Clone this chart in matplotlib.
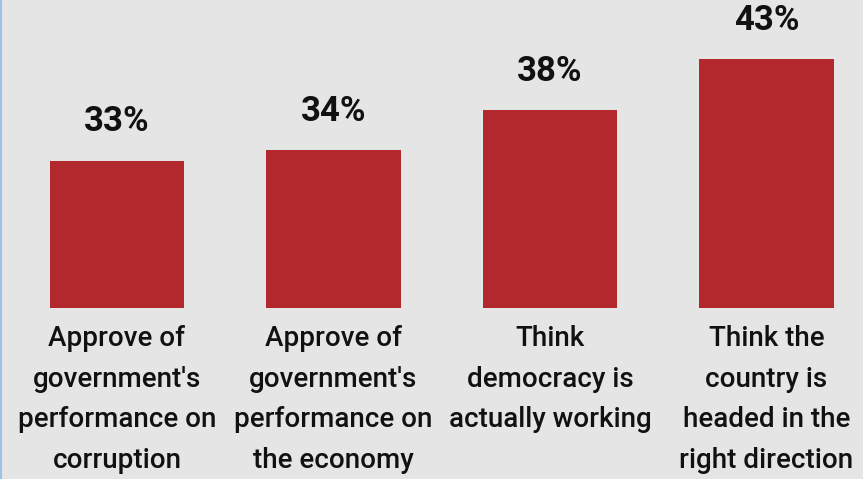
import matplotlib
matplotlib.use('Agg')
import matplotlib.pyplot as plt

categories = ["Approve of\ngovernment's\nperformance on\ncorruption",
              "Approve of\ngovernment's\nperformance on\nthe economy",
              "Think\ndemocracy is\nactually working",
              "Think the\ncountry is\nheaded in the\nright direction"]
values = [33, 34, 38, 43]
value_labels = ['33%', '34%', '38%', '43%']

bg = '#e5e5e5'
bar_color = '#b3282d'
fonts = ['Roboto', 'DejaVu Sans']
base = 18.5

fig = plt.figure(figsize=(8.63, 4.79), dpi=100, facecolor=bg)
ax = fig.add_axes([0, 0, 1, 1], facecolor=bg)

x = list(range(len(values)))
ax.bar(x, [v - base for v in values], bottom=base, width=0.62, color=bar_color)

# percentages above the bars
for xi, v, lab in zip(x, values, value_labels):
    ax.annotate(lab, (xi, v), xytext=(0, 21), textcoords='offset points',
                ha='center', va='baseline', fontsize=25, fontweight='bold',
                family=fonts, color='#111111')

# category names under the bars
for xi, cat in zip(x, categories):
    ax.annotate(cat, (xi, base), xytext=(0, -12), textcoords='offset points',
                ha='center', va='top', fontsize=20, fontweight='medium',
                family=fonts, color='#111111', linespacing=1.66)

ax.set_xlim(-0.54, 3.446)
ax.set_ylim(1.67, 48.81)
ax.set_xticks([])
ax.set_yticks([])
for s in ax.spines.values():
    s.set_visible(False)

# thin blue rule on the left edge
fig.add_artist(plt.Line2D([0.001, 0.001], [0, 1], color='#9cc3e5', lw=1.5,
                          transform=fig.transFigure))

fig.savefig('out.png', dpi=100, facecolor=bg)
